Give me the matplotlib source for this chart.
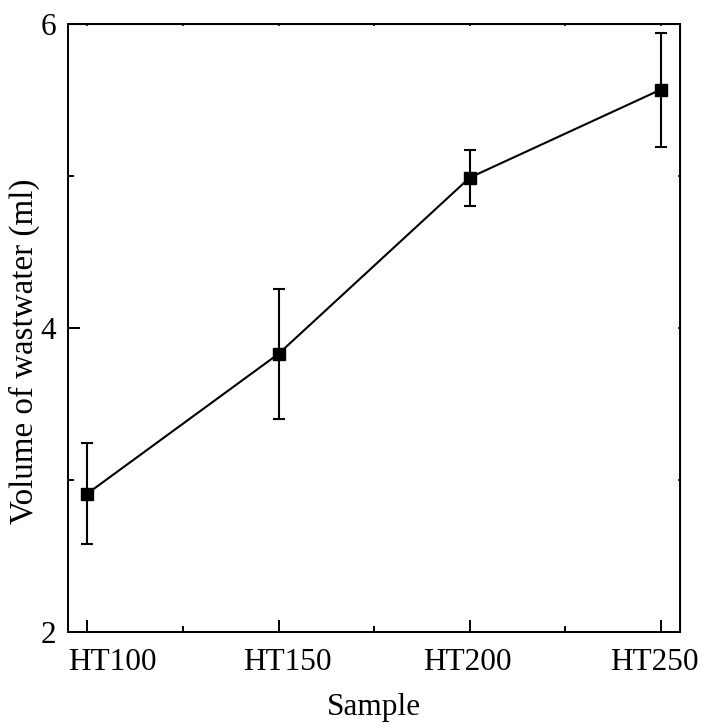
import matplotlib
matplotlib.use("Agg")
import matplotlib.pyplot as plt
from matplotlib.ticker import MultipleLocator
from matplotlib.transforms import ScaledTranslation


samples = ["HT100", "HT150", "HT200", "HT250"]
volume = [2.91, 3.83, 4.99, 5.57]
volume_err = [0.33, 0.43, 0.185, 0.375]

# the original figure's tick labels sit a little off their ticks (points)
label_shift = [18, 6.5, -2, -4.3]


def main():
    plt.rcParams["font.family"] = ["Liberation Serif", "DejaVu Serif"]

    fig = plt.figure(figsize=(7.03, 7.23), dpi=100)
    ax = fig.add_axes([0.0972, 0.1263, 0.8700, 0.8401])

    x = list(range(len(samples)))
    ax.errorbar(x, volume, yerr=volume_err, color="black", linewidth=1.5,
                marker="s", markersize=9.2, capsize=4.6, capthick=1.5,
                elinewidth=1.5)

    ax.set_xlim(-0.1, len(samples) - 0.9)
    ax.set_ylim(2, 6)
    ax.set_xticks(x)
    ax.set_xticklabels(samples)
    ax.xaxis.set_minor_locator(MultipleLocator(0.5))
    ax.yaxis.set_major_locator(MultipleLocator(2))
    ax.yaxis.set_minor_locator(MultipleLocator(1))

    for side in ax.spines.values():
        side.set_linewidth(1.4)

    ax.tick_params(which="major", direction="in", length=8.5, width=1.4)
    ax.tick_params(which="minor", direction="in", length=4.3, width=1.4)
    ax.tick_params(axis="x", labelsize=22.5, pad=12)
    ax.tick_params(axis="y", labelsize=22.5, pad=9)

    for lab, dx in zip(ax.get_xticklabels(), label_shift):
        lab.set_transform(lab.get_transform()
                          + ScaledTranslation(dx / 72, 0, fig.dpi_scale_trans))

    top = ax.secondary_xaxis("top")
    top.set_xticks([0, 0.5, 1, 1.5, 2, 2.5, 3])
    top.tick_params(direction="in", length=1.5, width=1.2, labeltop=False)
    right = ax.secondary_yaxis("right")
    right.set_yticks([2, 3, 4, 5, 6])
    right.tick_params(direction="in", length=1.5, width=1.2, labelright=False)

    ax.set_xlabel("Sample", fontsize=22.5, labelpad=11)
    ax.set_ylabel("Volume of wastwater (ml)", fontsize=23.8)
    ax.yaxis.set_label_coords(-0.047, 0.461)

    fig.savefig("out.png", dpi=100)
    plt.close(fig)


if __name__ == "__main__":
    main()
